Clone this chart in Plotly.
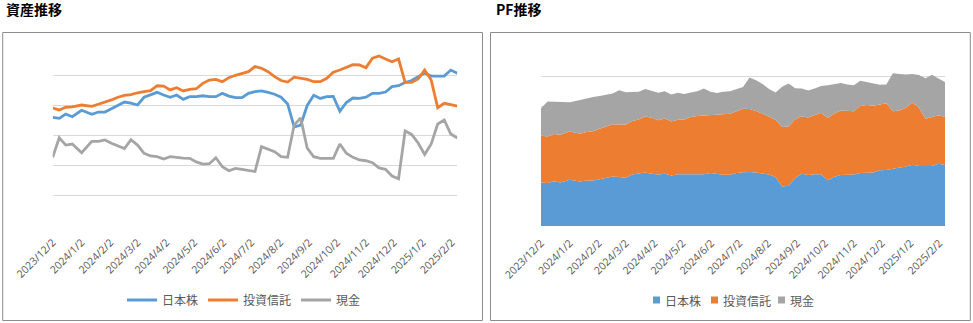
import plotly.graph_objects as go

# ---- data (values in 万円) ----
dates = [
    "2023-12-02", "2023-12-09", "2023-12-16", "2023-12-23", "2024-01-02", "2024-01-13",
    "2024-01-20", "2024-01-27", "2024-02-03", "2024-02-10", "2024-02-17", "2024-02-24",
    "2024-03-02", "2024-03-09", "2024-03-16", "2024-03-23", "2024-03-30", "2024-04-06",
    "2024-04-13", "2024-04-20", "2024-04-27", "2024-05-04", "2024-05-11", "2024-05-18",
    "2024-05-25", "2024-06-01", "2024-06-08", "2024-06-15", "2024-06-22", "2024-06-29",
    "2024-07-06", "2024-07-13", "2024-07-20", "2024-07-27", "2024-08-03", "2024-08-10",
    "2024-08-17", "2024-08-24", "2024-08-31", "2024-09-07", "2024-09-14", "2024-09-21",
    "2024-09-28", "2024-10-05", "2024-10-12", "2024-10-19", "2024-10-26", "2024-11-02",
    "2024-11-09", "2024-11-16", "2024-11-23", "2024-11-30", "2024-12-07", "2024-12-14",
    "2024-12-21", "2024-12-28", "2025-01-04", "2025-01-11", "2025-01-18", "2025-01-25",
    "2025-02-01", "2025-02-08",
]
nihon_kabu = [
    72.3, 71.6, 74.5, 72.7, 77.0, 74.3, 75.8, 75.8, 78.0, 80.5, 82.5, 81.7,
    80.5, 85.7, 87.2, 89.0, 87.2, 85.7, 87.2, 84.3, 86.1, 86.1, 86.7, 86.1,
    86.1, 88.3, 86.5, 85.4, 85.4, 88.3, 89.4, 89.9, 89.0, 87.7, 85.7, 81.2,
    65.8, 67.1, 80.2, 87.0, 84.9, 86.1, 86.2, 76.3, 82.2, 85.2, 85.0, 85.7,
    88.3, 88.3, 89.2, 92.8, 93.4, 95.6, 96.9, 99.3, 101.9, 99.9, 99.9, 99.9,
    103.9, 101.7,
]
toushi_shintaku = [
    78.5, 77.2, 79.0, 79.2, 80.5, 79.6, 81.0, 82.3, 83.9, 85.7, 87.0, 87.4,
    88.7, 89.4, 90.1, 93.4, 93.2, 90.6, 92.1, 89.9, 91.0, 91.4, 95.0, 97.2,
    97.7, 96.1, 98.8, 100.4, 101.5, 102.8, 106.2, 105.1, 102.8, 99.5, 96.9, 95.9,
    99.1, 98.6, 97.7, 96.1, 96.1, 98.4, 102.4, 103.9, 105.5, 107.5, 107.3, 105.5,
    111.8, 113.3, 111.3, 109.5, 111.3, 95.7, 95.7, 97.9, 103.9, 97.2, 78.7, 81.7,
    80.7, 79.8,
]
genkin = [
    45.5, 58.6, 53.7, 54.4, 48.6, 56.2, 56.2, 57.1, 54.9, 53.1, 51.3, 57.3,
    53.7, 48.2, 46.4, 45.9, 44.4, 45.9, 45.2, 45.0, 44.8, 42.4, 41.0, 41.2,
    45.2, 39.2, 36.5, 38.1, 37.5, 37.0, 36.0, 52.6, 51.1, 49.3, 45.9, 45.5,
    67.1, 71.8, 51.7, 45.9, 44.8, 44.8, 44.8, 54.4, 48.2, 45.5, 43.7, 43.2,
    41.9, 38.4, 37.5, 33.0, 31.1, 63.1, 60.8, 55.1, 47.4, 54.4, 67.8, 70.5,
    61.1, 58.4,
]
series_names = ["日本株", "投資信託", "現金"]
tick_dates = [
    "2023-12-02", "2024-01-02", "2024-02-02", "2024-03-02", "2024-04-02", "2024-05-02",
    "2024-06-02", "2024-07-02", "2024-08-02", "2024-09-02", "2024-10-02", "2024-11-02",
    "2024-12-02", "2025-01-02", "2025-02-02",
]
tick_labels = [
    "2023/12/2", "2024/1/2", "2024/2/2", "2024/3/2", "2024/4/2", "2024/5/2",
    "2024/6/2", "2024/7/2", "2024/8/2", "2024/9/2", "2024/10/2", "2024/11/2",
    "2024/12/2", "2025/1/2", "2025/2/2",
]
titles = ["資産推移", "PF推移"]

# ---- styling ----
W, H = 973, 323
colors = ["#5B9BD5", "#ED7D31", "#A5A5A5"]
FONT = "Noto Sans CJK JP, Noto Sans, sans-serif"
TICKFONT = "Open Sans, Noto Sans, sans-serif"
TXT = "#595959"
GRID = "#D9D9D9"

def px_x(p):
    return p / W

def px_y(p):
    return 1 - p / H

fig = go.Figure()
all_series = [nihon_kabu, toushi_shintaku, genkin]

for name, vals, c in zip(series_names, all_series, colors):
    fig.add_trace(go.Scatter(
        x=dates, y=vals, name=name, mode="lines",
        line=dict(color=c, width=2.8),
        xaxis="x", yaxis="y", legend="legend",
    ))

for name, vals, c in zip(series_names, all_series, colors):
    fig.add_trace(go.Scatter(
        x=dates, y=vals, name=name, mode="lines",
        line=dict(color=c, width=0), fillcolor=c,
        stackgroup="pf", xaxis="x2", yaxis="y2", showlegend=False,
    ))

xcommon = dict(
    type="date", range=[dates[0], dates[-1]],
    tickmode="array", tickvals=tick_dates, ticktext=tick_labels,
    tickangle=-45, tickfont=dict(size=10.5, color=TXT, family=TICKFONT),
    ticklabelstandoff=8,
    showgrid=False, showline=False, zeroline=False, ticks="",
    fixedrange=True, automargin=False,
)
ycommon = dict(showticklabels=False, gridcolor=GRID, gridwidth=1,
               zeroline=False, showline=False, ticks="", fixedrange=True,
               automargin=False)

fig.update_layout(
    width=W, height=H,
    margin=dict(l=0, r=0, t=0, b=0, autoexpand=False),
    paper_bgcolor="white", plot_bgcolor="white",
    font=dict(family=FONT, color=TXT),
    xaxis=dict(domain=[px_x(52.7), px_x(457.3)], anchor="y", **xcommon),
    yaxis=dict(domain=[px_y(225.3), px_y(46)], anchor="x",
               range=[0, 120], dtick=20, **ycommon),
    xaxis2=dict(domain=[px_x(541), px_x(945)], anchor="y2", **xcommon),
    yaxis2=dict(domain=[px_y(226), px_y(46)], anchor="x2",
                range=[0, 300], dtick=50, **ycommon),
    legend=dict(orientation="h", x=px_x(244), xanchor="center",
                y=px_y(300), yanchor="middle", traceorder="normal",
                font=dict(size=12, color=TXT, family=FONT),
                bgcolor="rgba(0,0,0,0)", itemwidth=30),
    showlegend=True,
)

# panel borders
fig.add_shape(type="rect", xref="paper", yref="paper",
              x0=px_x(2.7), x1=px_x(482.5), y0=px_y(320.5), y1=px_y(32.5),
              line=dict(color="#8C8C8C", width=1), layer="below")
fig.add_shape(type="rect", xref="paper", yref="paper",
              x0=px_x(490.5), x1=px_x(970.3), y0=px_y(320.5), y1=px_y(32.5),
              line=dict(color="#8C8C8C", width=1), layer="below")

# legend for the stacked-area panel (small squares like the original)
legend2_square_x = [653, 711, 778]
for name, c, sx in zip(series_names, colors, legend2_square_x):
    fig.add_shape(type="rect", xref="paper", yref="paper",
                  x0=px_x(sx), x1=px_x(sx + 7), y0=px_y(303.5), y1=px_y(296.5),
                  line=dict(width=0), fillcolor=c)
    fig.add_annotation(text=name, xref="paper", yref="paper",
                       x=px_x(sx + 9.5), y=px_y(300), xanchor="left", yanchor="middle",
                       showarrow=False, font=dict(size=12, color=TXT, family=FONT))

# titles
fig.add_annotation(text="<b>" + titles[0] + "</b>", xref="paper", yref="paper",
                   x=px_x(3.5), y=px_y(9), xanchor="left", yanchor="middle",
                   showarrow=False, font=dict(size=14, color="#000000", family=FONT))
fig.add_annotation(text="<b>" + titles[1] + "</b>", xref="paper", yref="paper",
                   x=px_x(494), y=px_y(9), xanchor="left", yanchor="middle",
                   showarrow=False, font=dict(size=14, color="#000000", family=FONT))

fig.write_html("out.html")
